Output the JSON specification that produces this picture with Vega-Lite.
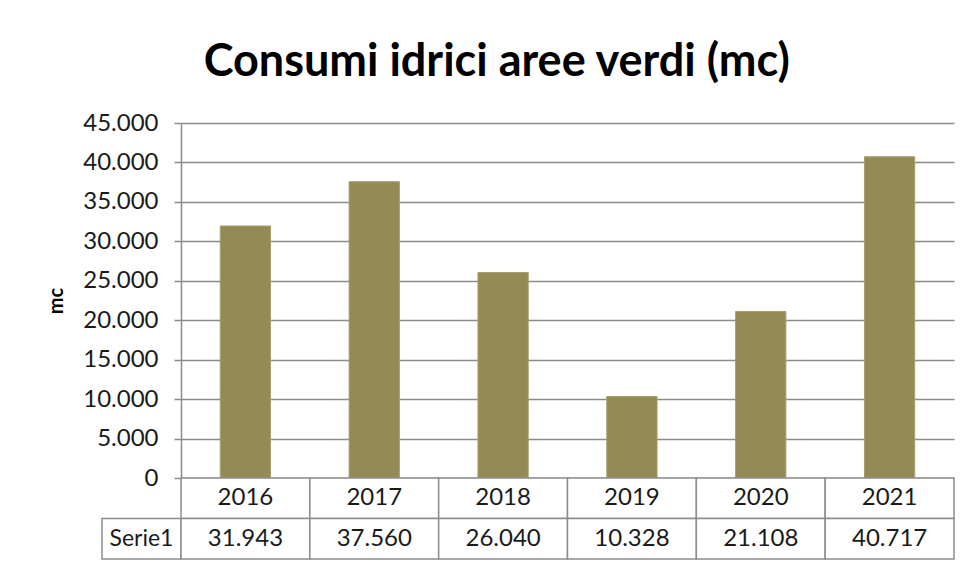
{
  "$schema": "https://vega.github.io/schema/vega-lite/v6.json",
  "background": "white",
  "padding": {"left": 46, "top": 40, "right": 5, "bottom": 5},
  "title": {"text": "Consumi idrici aree verdi (mc)", "fontSize": 45, "font": "Lato", "fontWeight": "bold", "color": "black", "anchor": "middle", "dx": -4, "offset": 26},
  "config": {
    "view": {"stroke": null},
    "font": "Lato",
    "locale": {"number": {"decimal": ",", "thousands": ".", "grouping": [3], "currency": ["", " €"]}}
  },
  "datasets": {
    "consumi": [
      {"anno": "2016", "mc": 31943},
      {"anno": "2017", "mc": 37560},
      {"anno": "2018", "mc": 26040},
      {"anno": "2019", "mc": 10328},
      {"anno": "2020", "mc": 21108},
      {"anno": "2021", "mc": 40717}
    ]
  },
  "columns": 2,
  "spacing": 0,
  "bounds": "flush",
  "align": "each",
  "concat": [
    {
      "width": 79, "height": 355,
      "data": {"values": []},
      "mark": "point"
    },
    {
      "width": 773, "height": 355,
      "data": {"name": "consumi"},
      "mark": {"type": "bar", "color": "#948A54", "stroke": "#A69D6A", "strokeWidth": 1},
      "encoding": {
        "x": {"field": "anno", "type": "nominal", "scale": {"paddingInner": 0.61, "paddingOuter": 0.305}, "axis": null},
        "y": {
          "field": "mc", "type": "quantitative",
          "scale": {"domain": [0, 45000], "nice": false},
          "axis": {
            "values": [0, 5000, 10000, 15000, 20000, 25000, 30000, 35000, 40000, 45000],
            "format": ",d",
            "title": "mc", "titleFontSize": 20, "titleFontWeight": "bold", "titleColor": "black", "titlePadding": 16,
            "labelFontSize": 24, "labelColor": "#1a1a1a", "labelPadding": 16,
            "tickSize": 7, "tickColor": "#8C8C8C", "tickWidth": 1.5,
            "domainColor": "#8C8C8C", "domainWidth": 1.5,
            "grid": true, "gridColor": "#8C8C8C", "gridWidth": 1.5, "gridOpacity": 1
          }
        }
      }
    },
    {
      "width": 79, "height": 81,
      "data": {"values": [{"riga": "Serie1"}]},
      "encoding": {
        "y": {"field": "riga", "type": "nominal", "scale": {"domain": ["anno", "Serie1"], "paddingInner": 0, "paddingOuter": 0}, "axis": null}
      },
      "layer": [
        {"mark": {"type": "rect", "fill": "white", "stroke": "#8C8C8C", "strokeWidth": 1.5}},
        {"mark": {"type": "text", "fontSize": 23, "color": "#1a1a1a"}, "encoding": {"text": {"field": "riga"}}}
      ]
    },
    {
      "width": 773, "height": 81,
      "data": {"name": "consumi"},
      "encoding": {
        "x": {"field": "anno", "type": "nominal", "scale": {"paddingInner": 0, "paddingOuter": 0}, "axis": null}
      },
      "layer": [
        {
          "mark": {"type": "rect", "fill": "white", "stroke": "#8C8C8C", "strokeWidth": 1.5},
          "encoding": {"y": {"datum": "anno", "type": "nominal", "scale": {"domain": ["anno", "Serie1"], "paddingInner": 0, "paddingOuter": 0}, "axis": null}}
        },
        {
          "mark": {"type": "rect", "fill": "white", "stroke": "#8C8C8C", "strokeWidth": 1.5},
          "encoding": {"y": {"datum": "Serie1", "type": "nominal"}}
        },
        {
          "mark": {"type": "text", "fontSize": 24, "color": "#1a1a1a"},
          "encoding": {"y": {"datum": "anno", "type": "nominal"}, "text": {"field": "anno"}}
        },
        {
          "mark": {"type": "text", "fontSize": 24, "color": "#1a1a1a"},
          "encoding": {"y": {"datum": "Serie1", "type": "nominal"}, "text": {"field": "mc", "type": "quantitative", "format": ",d"}}
        }
      ]
    }
  ]
}
